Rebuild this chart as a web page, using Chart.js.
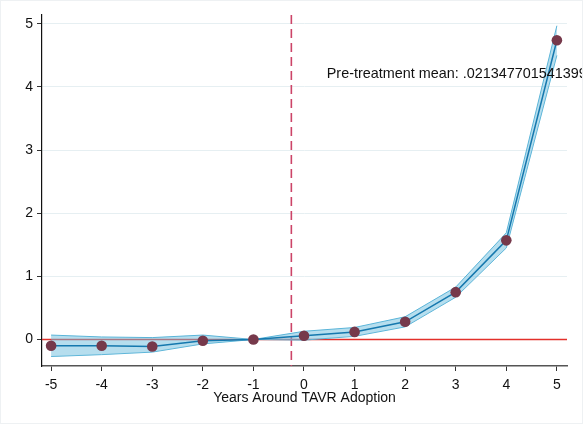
<!DOCTYPE html>
<html>
<head>
<meta charset="utf-8">
<script src="https://cdn.jsdelivr.net/npm/chart.js@4"></script>
<style>
  html, body { margin: 0; padding: 0; background: #fff; }
  #wrap { width: 583px; height: 424px; position: relative; box-sizing: border-box; border: 1px solid #eef1f3; }
</style>
</head>
<body>
<div id="wrap"><canvas id="chart"></canvas></div>
<script>
const years = [-5, -4, -3, -2, -1, 0, 1, 2, 3, 4, 5];
const estimate = [-0.10, -0.10, -0.11, -0.02, 0, 0.06, 0.12, 0.28, 0.75, 1.57, 4.74];
const ciUpper = [0.07, 0.04, 0.03, 0.07, 0, 0.13, 0.19, 0.36, 0.83, 1.69, 4.97];
const ciLower = [-0.27, -0.24, -0.20, -0.07, 0, -0.01, 0.05, 0.20, 0.67, 1.45, 4.50];
const yTicks = [0, 1, 2, 3, 4, 5];
const xTicks = [-5, -4, -3, -2, -1, 0, 1, 2, 3, 4, 5];
const treatLine = -0.25;
const noteText = "Pre-treatment mean: .0213477015413993";
const notePos = { x: 0.45, y: 4.2 };

const font = "Liberation Sans, Arial, Helvetica, sans-serif";

const pts = arr => years.map((x, i) => ({ x: x, y: arr[i] }));

const refLines = {
  id: "refLines",
  beforeDatasetsDraw(chart) {
    const { ctx, chartArea: a, scales: { x, y } } = chart;
    ctx.save();
    // horizontal line at zero
    ctx.strokeStyle = "#e3302b";
    ctx.lineWidth = 1.4;
    ctx.beginPath();
    ctx.moveTo(a.left, y.getPixelForValue(0));
    ctx.lineTo(a.right, y.getPixelForValue(0));
    ctx.stroke();
    // treatment line
    const px = x.getPixelForValue(treatLine);
    ctx.strokeStyle = "#cc4468";
    ctx.lineWidth = 1.6;
    ctx.setLineDash([9, 5]);
    ctx.beginPath();
    ctx.moveTo(px, a.top);
    ctx.lineTo(px, a.bottom);
    ctx.stroke();
    ctx.restore();
  },
  afterDatasetsDraw(chart) {
    const { ctx, scales: { x, y } } = chart;
    ctx.save();
    ctx.font = "14.4px " + font;
    ctx.fillStyle = "#111";
    ctx.textBaseline = "middle";
    ctx.fillText(noteText, x.getPixelForValue(notePos.x), y.getPixelForValue(notePos.y));
    ctx.restore();
  }
};

new Chart(document.getElementById("chart"), {
  type: "scatter",
  data: {
    datasets: [
      {
        data: pts(ciUpper),
        showLine: true,
        borderColor: "#5ab4d8",
        borderWidth: 1,
        backgroundColor: "rgba(110, 190, 222, 0.5)",
        pointRadius: 0,
        fill: "+1",
        order: 3
      },
      {
        data: pts(ciLower),
        showLine: true,
        borderColor: "#5ab4d8",
        borderWidth: 1,
        pointRadius: 0,
        fill: false,
        order: 3
      },
      {
        data: pts(estimate),
        showLine: true,
        borderColor: "#1578ae",
        borderWidth: 1.5,
        pointRadius: 5.3,
        pointBackgroundColor: "#76394b",
        pointBorderColor: "#76394b",
        pointBorderWidth: 0,
        order: 1
      }
    ]
  },
  options: {
    responsive: true,
    maintainAspectRatio: false,
    animation: false,
    layout: { padding: { top: 14, right: 15, left: 0, bottom: 16 } },
    plugins: { legend: { display: false }, tooltip: { enabled: false } },
    scales: {
      x: {
        type: "linear",
        min: -5.18,
        max: 5.2,
        afterBuildTicks: s => { s.ticks = xTicks.map(v => ({ value: v })); },
        afterFit: s => { s.height = 41; },
        grid: { drawOnChartArea: false, tickColor: "#333", tickLength: 5 },
        border: { color: "#555", width: 1.5 },
        ticks: { color: "#111", font: { family: font, size: 14 }, padding: 6, maxRotation: 0 },
        title: { display: true, text: "Years Around TAVR Adoption", color: "#111", font: { family: font, size: 14 }, padding: { top: 0, bottom: 0 } }
      },
      y: {
        min: -0.42,
        max: 5.14,
        afterBuildTicks: s => { s.ticks = yTicks.map(v => ({ value: v })); },
        afterFit: s => { s.width = 41; },
        grid: { color: "#e6eff2", tickColor: "#333", tickLength: 5 },
        border: { color: "#111", width: 1.2 },
        ticks: { color: "#111", font: { family: font, size: 14 }, padding: 4 }
      }
    }
  },
  plugins: [refLines]
});
</script>
</body>
</html>
